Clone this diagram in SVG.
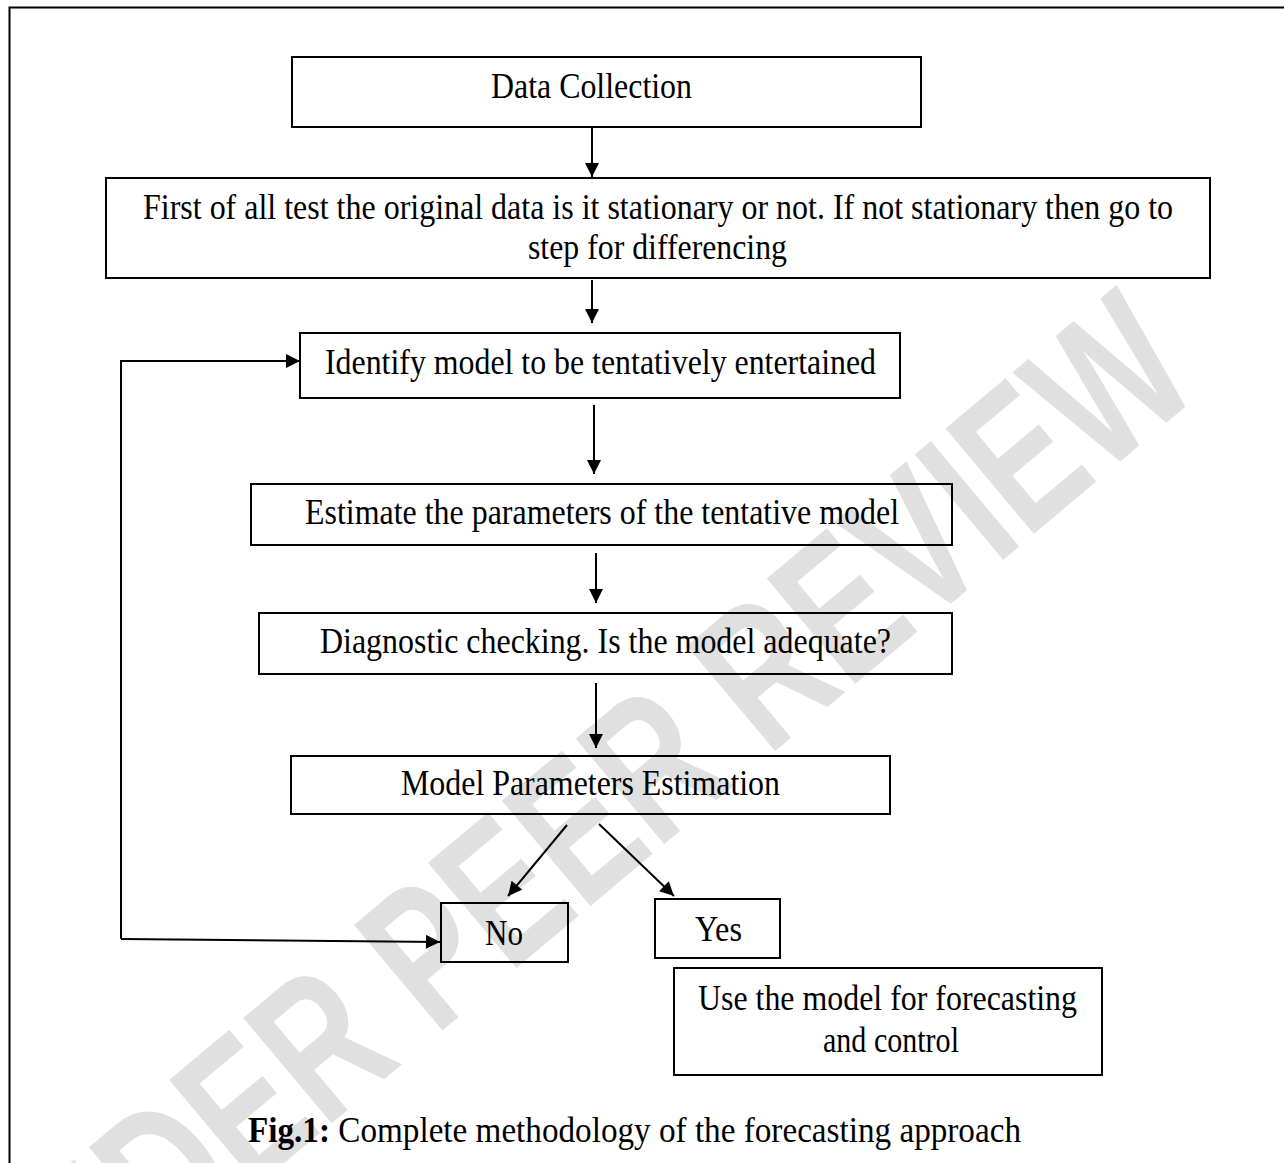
<svg xmlns="http://www.w3.org/2000/svg" width="1284" height="1163" viewBox="0 0 1284 1163">
<style>
.box{fill:none;stroke:#000;stroke-width:2}
.t{font-family:"Liberation Serif","Times New Roman",serif;font-size:35px;fill:#000}
.c{fill:none;stroke:#000;stroke-width:2}
.wm{font-family:"Liberation Sans",Arial,sans-serif;font-size:200px;font-weight:bold;fill:#e0e0e0}
</style>
<defs>
<marker id="ah" viewBox="0 0 10 10" refX="10" refY="5" markerWidth="8" markerHeight="7" markerUnits="strokeWidth" orient="auto">
<path d="M0,0 L10,5 L0,10 Z" fill="#000"/>
</marker>
</defs>
<rect width="1284" height="1163" fill="#fff"/>
<g id="watermark">
<text class="wm" x="0" y="0" textLength="1560" lengthAdjust="spacingAndGlyphs" transform="translate(10,1393) rotate(-40)">UNDER PEER REVIEW</text>
</g>
<g id="frame">
<path d="M9.5,1163 V7.5 H1284" class="c" stroke-width="3"/>
</g>
<g id="n1"><rect class="box" x="292" y="57" width="629" height="70"/><text class="t" x="491" y="98" textLength="201" lengthAdjust="spacingAndGlyphs">Data Collection</text></g>
<g id="n2"><rect class="box" x="106" y="178" width="1104" height="100"/><text class="t" x="143" y="219" textLength="1030" lengthAdjust="spacingAndGlyphs">First of all test the original data is it stationary or not. If not stationary then go to</text><text class="t" x="528" y="259" textLength="259" lengthAdjust="spacingAndGlyphs">step for differencing</text></g>
<g id="n3"><rect class="box" x="300" y="333" width="600" height="65"/><text class="t" x="325" y="374" textLength="551" lengthAdjust="spacingAndGlyphs">Identify model to be tentatively entertained</text></g>
<g id="n4"><rect class="box" x="251" y="484" width="701" height="61"/><text class="t" x="305" y="524" textLength="594" lengthAdjust="spacingAndGlyphs">Estimate the parameters of the tentative model</text></g>
<g id="n5"><rect class="box" x="259" y="613" width="693" height="61"/><text class="t" x="320" y="653" textLength="571" lengthAdjust="spacingAndGlyphs">Diagnostic checking. Is the model adequate?</text></g>
<g id="n6"><rect class="box" x="291" y="756" width="599" height="58"/><text class="t" x="401" y="795" textLength="379" lengthAdjust="spacingAndGlyphs">Model Parameters Estimation</text></g>
<g id="n7"><rect class="box" x="441" y="903" width="127" height="59"/><text class="t" x="485" y="945" textLength="38" lengthAdjust="spacingAndGlyphs">No</text></g>
<g id="n8"><rect class="box" x="655" y="899" width="125" height="59"/><text class="t" x="695" y="941" textLength="47" lengthAdjust="spacingAndGlyphs">Yes</text></g>
<g id="n9"><rect class="box" x="674" y="968" width="428" height="107"/><text class="t" x="698" y="1010" textLength="379" lengthAdjust="spacingAndGlyphs">Use the model for forecasting</text><text class="t" x="823" y="1052" textLength="136" lengthAdjust="spacingAndGlyphs">and control</text></g>
<g id="caption"><text class="t" x="248" y="1142" textLength="773" lengthAdjust="spacingAndGlyphs"><tspan font-weight="bold">Fig.1:</tspan> Complete methodology of the forecasting approach</text></g>
<g id="connectors">
<path class="c" d="M592,127 V177" marker-end="url(#ah)"/>
<path class="c" d="M592,280 V323" marker-end="url(#ah)"/>
<path class="c" d="M594,405 V474" marker-end="url(#ah)"/>
<path class="c" d="M596,553 V603" marker-end="url(#ah)"/>
<path class="c" d="M596,683 V748" marker-end="url(#ah)"/>
<path class="c" d="M567,825 L508,896" marker-end="url(#ah)"/>
<path class="c" d="M599,824 L674,896" marker-end="url(#ah)"/>
<path class="c" d="M121,939 L440,942" marker-end="url(#ah)"/>
<path class="c" d="M121,939 V361 H300" marker-end="url(#ah)"/>
</g>
</svg>
